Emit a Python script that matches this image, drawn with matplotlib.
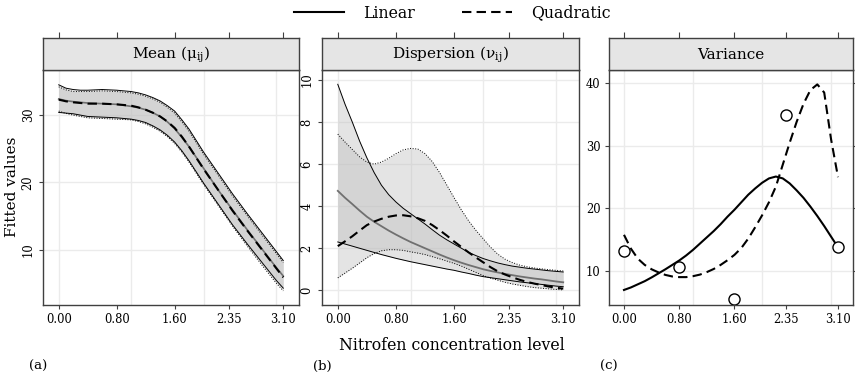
import matplotlib
matplotlib.use("Agg")
import matplotlib.pyplot as plt
from matplotlib.lines import Line2D

plt.rcParams['font.family'] = ['DejaVu Serif']
plt.rcParams['mathtext.fontset'] = 'dejavuserif'

# concentration grid of the fitted curves
conc = [0.0, 0.1, 0.2, 0.3, 0.4, 0.5, 0.6, 0.7, 0.8, 0.9, 1.0, 1.1, 1.2, 1.3, 1.4, 1.5,
        1.6, 1.7, 1.8, 1.9, 2.0, 2.1, 2.2, 2.3, 2.4, 2.5, 2.6, 2.7, 2.8, 2.9, 3.0, 3.1]

# (a) mean
mu_lin = [32.4, 32.15, 32.0, 31.9, 31.8, 31.75, 31.7, 31.65, 31.6, 31.45, 31.3, 31.1, 30.8, 30.35, 29.8, 29.0,
          28.0, 26.7, 25.3, 23.7, 22.1, 20.5, 18.9, 17.4, 15.9, 14.45, 13.0, 11.6, 10.2, 8.8, 7.4, 6.1]
mu_lin_up = [34.5, 34.0, 33.8, 33.7, 33.7, 33.75, 33.8, 33.75, 33.7, 33.6, 33.5, 33.3, 33.0, 32.6, 32.1, 31.4,
             30.6, 29.3, 27.9, 26.2, 24.5, 22.95, 21.4, 19.85, 18.3, 16.85, 15.4, 14.0, 12.6, 11.2, 9.8, 8.4]
mu_lin_lo = [30.4, 30.3, 30.2, 30.0, 29.8, 29.75, 29.7, 29.65, 29.6, 29.5, 29.4, 29.2, 28.9, 28.4, 27.8, 27.0,
             26.0, 24.7, 23.2, 21.55, 19.9, 18.35, 16.8, 15.25, 13.7, 12.3, 10.9, 9.55, 8.2, 6.85, 5.5, 4.3]
mu_quad = [32.3, 32.05, 31.9, 31.8, 31.7, 31.7, 31.7, 31.65, 31.6, 31.5, 31.4, 31.15, 30.8, 30.35, 29.8, 29.05,
           28.1, 26.8, 25.3, 23.65, 22.0, 20.45, 18.9, 17.35, 15.8, 14.35, 12.9, 11.5, 10.1, 8.7, 7.3, 5.9]
mu_quad_up = [34.2, 33.75, 33.5, 33.5, 33.5, 33.55, 33.6, 33.55, 33.5, 33.4, 33.3, 33.1, 32.8, 32.4, 31.9, 31.15,
              30.3, 29.0, 27.6, 25.9, 24.2, 22.65, 21.1, 19.55, 18.0, 16.55, 15.1, 13.7, 12.3, 10.9, 9.5, 8.1]
mu_quad_lo = [30.6, 30.25, 30.0, 29.8, 29.6, 29.55, 29.5, 29.45, 29.4, 29.35, 29.3, 29.05, 28.7, 28.2, 27.6, 26.8,
              25.8, 24.5, 23.0, 21.35, 19.7, 18.15, 16.6, 15.05, 13.5, 12.05, 10.6, 9.2, 7.8, 6.45, 5.1, 3.9]

# (b) dispersion
nu_lin = [4.73, 4.40, 4.10, 3.79, 3.50, 3.26, 3.05, 2.84, 2.65, 2.47, 2.30, 2.15, 2.00, 1.85, 1.70, 1.56,
          1.43, 1.31, 1.20, 1.10, 1.00, 0.92, 0.85, 0.78, 0.72, 0.66, 0.61, 0.56, 0.52, 0.47, 0.42, 0.38]
nu_lin_up = [9.8, 8.85, 8.0, 7.1, 6.3, 5.6, 5.0, 4.55, 4.2, 3.9, 3.65, 3.4, 3.15, 2.88, 2.62, 2.4,
             2.2, 2.0, 1.8, 1.65, 1.51, 1.4, 1.3, 1.22, 1.15, 1.1, 1.05, 1.01, 0.97, 0.93, 0.9, 0.87]
nu_lin_lo = [2.3, 2.2, 2.1, 2.0, 1.9, 1.8, 1.7, 1.61, 1.52, 1.44, 1.36, 1.29, 1.22, 1.15, 1.08, 1.01,
             0.95, 0.87, 0.8, 0.72, 0.65, 0.6, 0.55, 0.5, 0.45, 0.4, 0.36, 0.32, 0.28, 0.24, 0.2, 0.17]
nu_quad = [2.1, 2.33, 2.57, 2.84, 3.1, 3.27, 3.4, 3.5, 3.56, 3.57, 3.52, 3.43, 3.3, 3.1, 2.86, 2.6,
           2.32, 2.06, 1.8, 1.56, 1.33, 1.1, 0.9, 0.75, 0.62, 0.5, 0.4, 0.32, 0.25, 0.18, 0.12, 0.08]
nu_quad_up = [7.43, 7.05, 6.7, 6.35, 6.1, 6.0, 6.1, 6.28, 6.5, 6.68, 6.75, 6.72, 6.5, 6.12, 5.6, 5.0,
              4.4, 3.82, 3.3, 2.85, 2.45, 2.05, 1.72, 1.48, 1.32, 1.2, 1.12, 1.06, 1.02, 0.98, 0.95, 0.92]
nu_quad_lo = [0.59, 0.82, 1.05, 1.3, 1.55, 1.75, 1.88, 1.93, 1.93, 1.9, 1.83, 1.77, 1.7, 1.6, 1.5, 1.39,
              1.28, 1.15, 1.0, 0.85, 0.7, 0.58, 0.48, 0.38, 0.3, 0.24, 0.18, 0.13, 0.1, 0.07, 0.04, 0.02]

# (c) variance
var_lin = [7.0, 7.4, 7.9, 8.4, 9.0, 9.65, 10.3, 11.0, 11.7, 12.5, 13.4, 14.4, 15.4, 16.4, 17.5, 18.7,
           19.8, 21.0, 22.2, 23.2, 24.1, 24.8, 25.1, 24.8, 24.0, 22.9, 21.7, 20.3, 18.8, 17.2, 15.5, 13.8]
var_quad = [15.8, 13.6, 12.0, 11.0, 10.3, 9.8, 9.4, 9.15, 9.05, 9.05, 9.2, 9.45, 9.85, 10.35, 11.0, 11.75,
            12.6, 13.7, 15.2, 17.0, 18.9, 21.0, 23.5, 27.0, 30.5, 33.8, 36.7, 38.9, 39.8, 38.5, 31.0, 25.0]
conc_obs = [0.0, 0.8, 1.6, 2.35, 3.1]
var_obs = [13.2, 10.7, 5.6, 34.9, 13.8]

xticks = [0.0, 0.8, 1.6, 2.35, 3.1]
xticklabels = ["0.00", "0.80", "1.60", "2.35", "3.10"]
xgrid = [0, 1, 2, 3]
titles = [r"Mean (μ$_\mathregular{ij}$)", r"Dispersion (ν$_\mathregular{ij}$)", "Variance"]

W, H = 855, 378
fig = plt.figure(figsize=(W / 100, H / 100), dpi=100)

edge = '#404040'
grid_c = '#ebebeb'
fill_c = '#bdbdbd'
dash = (0, (4.5, 2.5))


def box(x0, x1, y0, y1):
    return [x0 / W, 1 - y1 / H, (x1 - x0) / W, (y1 - y0) / H]


panels_px = [(43, 299), (322, 579), (609, 853)]
axes = []
for i, (x0, x1) in enumerate(panels_px):
    ax = fig.add_axes(box(x0, x1, 70, 305))
    st = fig.add_axes(box(x0, x1, 38, 70))
    for a in (ax, st):
        a.set_xlim(-0.217, 3.317)
        for sp in a.spines.values():
            sp.set_color(edge)
            sp.set_linewidth(1.0)
    st.set_facecolor('#e5e5e5')
    st.set_yticks([])
    st.set_xticks(xticks)
    st.tick_params(axis='x', top=True, bottom=False, labeltop=False, labelbottom=False,
                   direction='out', length=4, color=edge)
    st.text(0.5, 0.47, titles[i], transform=st.transAxes, ha='center', va='center', fontsize=11)

    ax.set_xticks(xticks)
    ax.set_xticklabels(xticklabels)
    for g in xgrid:
        ax.axvline(g, color=grid_c, lw=1, zorder=0)
    ax.grid(axis='y', color=grid_c, lw=1)
    ax.set_axisbelow(True)
    ax.tick_params(axis='both', direction='out', length=3, color=edge, labelsize=8.3, pad=3)
    axes.append(ax)

ax1, ax2, ax3 = axes

# (a)
ax1.fill_between(conc, mu_lin_lo, mu_lin_up, color=fill_c, alpha=0.4, lw=0)
ax1.fill_between(conc, mu_quad_lo, mu_quad_up, color=fill_c, alpha=0.4, lw=0)
ax1.plot(conc, mu_lin_up, color='black', lw=0.7)
ax1.plot(conc, mu_lin_lo, color='black', lw=0.7)
ax1.plot(conc, mu_quad_up, color='black', lw=0.7, ls=':')
ax1.plot(conc, mu_quad_lo, color='black', lw=0.7, ls=':')
ax1.plot(conc, mu_lin, color='#707070', lw=1.2)
ax1.plot(conc, mu_quad, color='black', lw=1.5, ls=dash)
ax1.set_ylim(1.8, 36.7)
ax1.set_yticks([10, 20, 30])

# (b)
ax2.plot(conc, nu_lin_up, color='black', lw=0.7)
ax2.plot(conc, nu_lin_lo, color='black', lw=0.7)
ax2.fill_between(conc, nu_lin_lo, nu_lin_up, color=fill_c, alpha=0.4, lw=0)
ax2.fill_between(conc, nu_quad_lo, nu_quad_up, color=fill_c, alpha=0.4, lw=0)
ax2.plot(conc, nu_quad_up, color='black', lw=0.7, ls=':')
ax2.plot(conc, nu_quad_lo, color='black', lw=0.7, ls=':')
ax2.plot(conc, nu_lin, color='#707070', lw=1.3)
ax2.plot(conc, nu_quad, color='black', lw=1.5, ls=dash)
ax2.set_ylim(-0.7, 10.48)
ax2.set_yticks([0, 2, 4, 6, 8, 10])

for a in (ax1, ax2):
    for lab in a.get_yticklabels():
        lab.set_rotation(90)
        lab.set_va('center')

# (c)
ax3.plot(conc, var_lin, color='black', lw=1.5)
ax3.plot(conc, var_quad, color='black', lw=1.5, ls=dash)
ax3.plot(conc_obs, var_obs, 'o', ms=8, mfc='white', mec='black', mew=1.0, clip_on=False)
ax3.set_ylim(4.6, 42.1)
ax3.set_yticks([10, 20, 30, 40])
ax3.tick_params(axis='y', right=True, length=3)

# labels
fig.text(12 / W, 1 - 187 / H, "Fitted values", rotation=90, ha='center', va='center', fontsize=11)
fig.text(452 / W, 1 - 346 / H, "Nitrofen concentration level", ha='center', va='center', fontsize=11.3)
for lab, xp in zip(["(a)", "(b)", "(c)"], [29, 313, 600]):
    fig.text(xp / W, 1 - 366 / H, lab, ha='left', va='center', fontsize=9.5)

handles = [Line2D([], [], color='black', lw=1.5),
           Line2D([], [], color='black', lw=1.5, ls=dash)]
fig.legend(handles, ["Linear", "Quadratic"], loc='center', bbox_to_anchor=(452 / W, 1 - 13 / H),
           ncol=2, frameon=False, fontsize=11.3, handlelength=3.2, handletextpad=1.2,
           columnspacing=3.0, borderpad=0)

fig.savefig("out.png", dpi=100)
